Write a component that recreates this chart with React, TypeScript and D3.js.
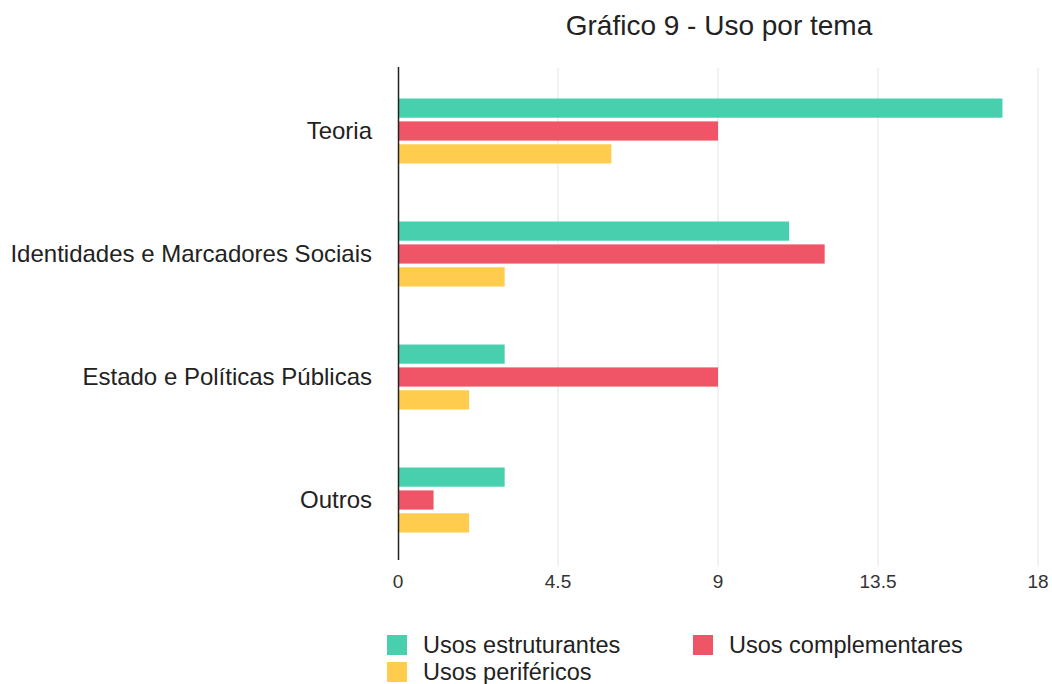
import React from "react";
import * as d3 from "d3";

const categories = ["Teoria", "Identidades e Marcadores Sociais", "Estado e Políticas Públicas", "Outros"];
const seriesNames = ["Usos estruturantes", "Usos complementares", "Usos periféricos"];
const estruturantes = [17, 11, 3, 3];
const complementares = [9, 12, 9, 1];
const perifericos = [6, 3, 2, 2];
const tickValues = [0, 4.5, 9, 13.5, 18];
const colors = ["#48CFAE", "#EF5566", "#FFCC4D"];

export default function App() {
  const W = 1052, H = 684;
  const x = d3.scaleLinear().domain([0, 18]).range([398, 1038]);
  const y = d3.scaleBand().domain(categories).range([69, 561]);
  const sub = d3.scaleBand().domain(seriesNames).range([-32, 33]).paddingInner(0.16);
  const seriesVals = [estruturantes, complementares, perifericos];
  const font = "'Liberation Sans', Arial, sans-serif";
  return (
    <svg width={W} height={H} style={{ position: "absolute", left: 0, top: 0 }} fontFamily={font}>
      <rect width={W} height={H} fill="#fff" />
      <text x={719} y={35} textAnchor="middle" fontSize={28} fill="#222">Gráfico 9 - Uso por tema</text>
      {tickValues.slice(1).map((t) => (
        <line key={t} x1={x(t)} x2={x(t)} y1={68} y2={566} stroke="#e4e4e4" strokeWidth={1} />
      ))}
      {tickValues.map((t) => (
        <text key={"l" + t} x={x(t)} y={588} textAnchor="middle" fontSize={19} fill="#333">{t}</text>
      ))}
      {categories.map((c, i) => {
        const cy = (y(c) as number) + y.bandwidth() / 2;
        return (
          <g key={c}>
            <text x={372} y={cy + 8} textAnchor="end" fontSize={24} fill="#222">{c}</text>
            {seriesNames.map((s, j) => (
              <rect key={s} x={x(0)} y={cy + (sub(s) as number)} width={x(seriesVals[j][i]) - x(0)} height={sub.bandwidth()} fill={colors[j]} />
            ))}
          </g>
        );
      })}
      <line x1={398.5} x2={398.5} y1={67} y2={560} stroke="#222" strokeWidth={1.5} />
      {[
        { name: seriesNames[0], c: colors[0], lx: 387, ly: 635 },
        { name: seriesNames[1], c: colors[1], lx: 693, ly: 635 },
        { name: seriesNames[2], c: colors[2], lx: 387, ly: 662 },
      ].map((l) => (
        <g key={l.name}>
          <rect x={l.lx} y={l.ly} width={20} height={20} fill={l.c} />
          <text x={l.lx + 36} y={l.ly + 18} fontSize={23.5} fill="#222">{l.name}</text>
        </g>
      ))}
    </svg>
  );
}
